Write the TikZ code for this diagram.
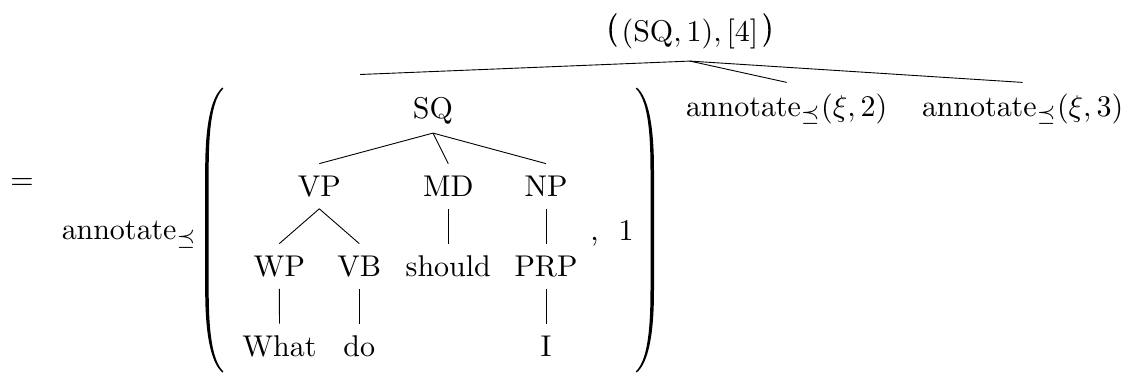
\documentclass[tikz,border=0pt]{standalone}
\usepackage{amsmath}
\begin{document}
\begin{tikzpicture}[x=0.33333pt,y=-0.33333pt,
  tnode/.style={anchor=base, inner xsep=0.67pt, inner ysep=3.83pt,
                text height=7pt, text depth=0pt},
  treeline/.style={line width=0.3pt},
  delim/.style={fill=black, draw=none},
  plain/.style={anchor=base, inner sep=0pt}]
\useasboundingbox (0,0) rectangle (1136,379);

% outer tree: root label (with its enclosing parentheses) and three children
\node[anchor=base, text height=7.5pt, text depth=3.33pt, inner ysep=2.93pt] (top) at (690,41.7)
  {$(\mathrm{SQ},1),[4]$};
\path[delim] (616,13) .. controls (611,18) and (609.3,24) .. (609.3,30)
  .. controls (609.3,36) and (611,42) .. (616,47)
  -- (616.6,46.3) .. controls (612.8,41.5) and (611.7,36) .. (611.7,30)
  .. controls (611.7,24) and (612.8,18.5) .. (616.6,13.7) -- cycle;
\begin{scope}[shift={(1380,0)}, xscale=-1]
\path[delim] (616,13) .. controls (611,18) and (609.3,24) .. (609.3,30)
  .. controls (609.3,36) and (611,42) .. (616,47)
  -- (616.6,46.3) .. controls (612.8,41.5) and (611.7,36) .. (611.7,30)
  .. controls (611.7,24) and (612.8,18.5) .. (616.6,13.7) -- cycle;
\end{scope}
\node[anchor=base, text height=7.33pt, inner ysep=3.67pt] (a2) at (786.7,116)
  {$\mathrm{annotate}_{\preceq}(\xi,2)$};
\node[anchor=base, text height=7.33pt, inner ysep=3.67pt] (a3) at (1022.5,116)
  {$\mathrm{annotate}_{\preceq}(\xi,3)$};
\coordinate (lhs) at (360,74.5);
\draw[treeline] (top.south) -- (lhs);
\draw[treeline] (top.south) -- (a2.north);
\draw[treeline] (top.south) -- (a3.north);

% equation sign and function name
\node[plain] (eq) at (22,189.5) {$=$};
\node[plain, anchor=base west] (ann) at (61,239.5) {$\mathrm{annotate}_{\preceq}$};

% large parentheses
\path[delim] (222.5,87.5) .. controls (211,97) and (205.2,125) .. (205.2,170)
  -- (205.2,290) .. controls (205.2,335) and (211,363) .. (222.5,372.5)
  -- (223.3,371.4) .. controls (212.6,361) and (208.7,334) .. (208.7,290)
  -- (208.7,170) .. controls (208.7,126) and (212.6,99) .. (223.3,88.6) -- cycle;
\begin{scope}[shift={(859.2,0)}, xscale=-1]
\path[delim] (222.5,87.5) .. controls (211,97) and (205.2,125) .. (205.2,170)
  -- (205.2,290) .. controls (205.2,335) and (211,363) .. (222.5,372.5)
  -- (223.3,371.4) .. controls (212.6,361) and (208.7,334) .. (208.7,290)
  -- (208.7,170) .. controls (208.7,126) and (212.6,99) .. (223.3,88.6) -- cycle;
\end{scope}

% second argument
\node[plain] (comma) at (594.5,240) {,};
\node[plain] (one) at (626,240) {1};

% parse tree
\node[tnode, text depth=1.33pt, inner ysep=3.33pt] (sq) at (433,118.5) {SQ};
\node[tnode] (vp) at (319.3,196.7) {VP};
\node[tnode] (md) at (448.3,196.7) {MD};
\node[tnode] (np) at (546,196.7) {NP};
\node[tnode] (wp) at (279.3,276.7) {WP};
\node[tnode] (vb) at (359.3,276.7) {VB};
\node[tnode] (should) at (448.3,276.7) {should};
\node[tnode] (prp) at (546,276.7) {PRP};
\node[tnode] (what) at (279.5,356.7) {What};
\node[tnode] (do) at (359.3,356.7) {do};
\node[tnode] (i) at (546,356.7) {I};

\draw[treeline] (sq.south) -- (vp.north);
\draw[treeline] (sq.south) -- (md.north);
\draw[treeline] (sq.south) -- (np.north);
\draw[treeline] (vp.south) -- (wp.north);
\draw[treeline] (vp.south) -- (vb.north);
\draw[treeline] (md.south) -- (should.north);
\draw[treeline] (np.south) -- (prp.north);
\draw[treeline] (wp.south) -- (what.north);
\draw[treeline] (vb.south) -- (do.north);
\draw[treeline] (prp.south) -- (i.north);
\end{tikzpicture}
\end{document}
